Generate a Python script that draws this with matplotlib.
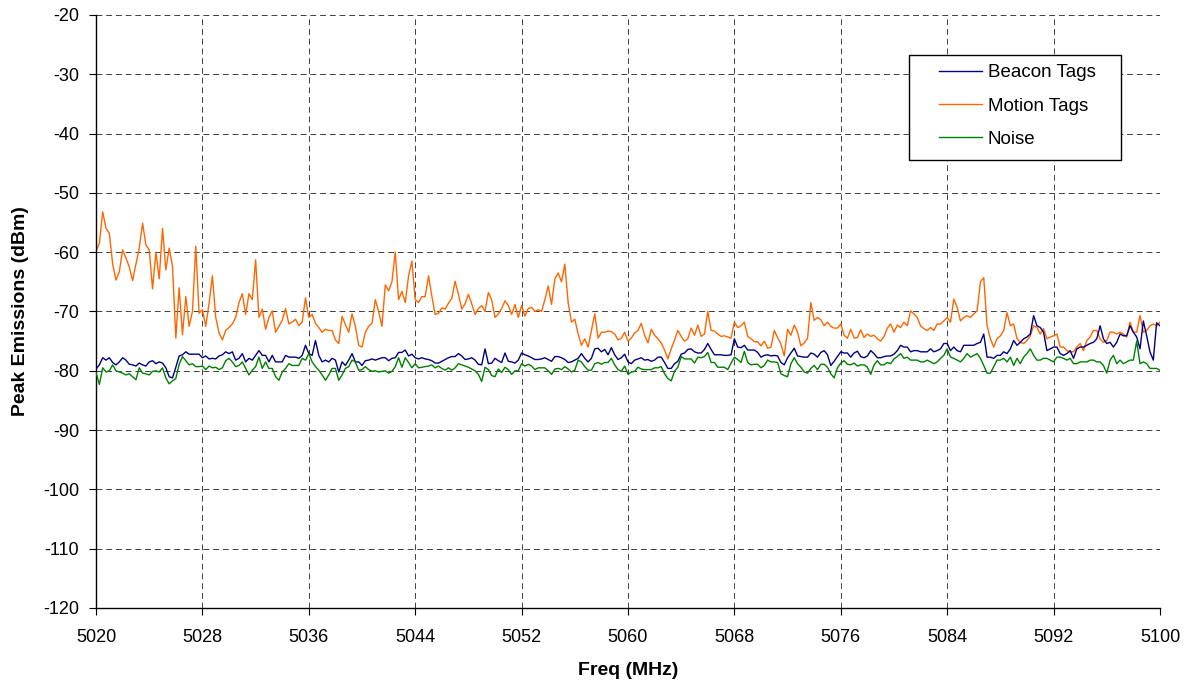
import numpy as np
import matplotlib
matplotlib.use("Agg")
import matplotlib.pyplot as plt
from matplotlib.patches import Rectangle

plt.rcParams["font.family"] = ["Liberation Sans", "DejaVu Sans"]
plt.rcParams["axes.unicode_minus"] = False

# frequency grid (MHz), 0.25 MHz steps from 5020 to 5100
freq = np.arange(5020.0, 5100.01, 0.25)

# peak emissions (dBm)
motion_tags = [
    -59.8, -58.5, -53.2, -56.0, -56.8, -62.0, -64.7, -63.3, -59.6, -61.0,
    -62.5, -64.8, -62.0, -59.3, -55.1, -58.8, -59.6, -66.2, -60.0, -64.5,
    -56.0, -63.0, -59.3, -62.4, -74.5, -66.0, -73.9, -67.5, -72.5, -70.0,
    -59.0, -70.3, -69.7, -72.5, -68.6, -64.0, -71.0, -73.6, -74.8, -73.2,
    -72.7, -72.1, -71.0, -68.5, -67.0, -70.5, -67.0, -68.0, -61.3, -71.0,
    -69.6, -73.0, -71.0, -69.9, -73.5, -72.5, -71.5, -69.5, -72.1, -71.8,
    -71.3, -72.4, -71.8, -67.7, -71.0, -70.5, -72.0, -72.7, -73.5, -73.0,
    -73.2, -73.2, -74.8, -75.4, -70.8, -72.2, -73.5, -70.4, -72.5, -75.7,
    -76.0, -73.5, -72.5, -72.0, -68.0, -70.0, -72.5, -65.5, -66.5, -65.0,
    -60.0, -68.0, -66.6, -68.5, -64.0, -61.5, -68.0, -68.5, -67.5, -67.5,
    -64.0, -67.4, -70.5, -70.3, -69.4, -69.6, -68.6, -67.8, -64.9, -67.1,
    -69.6, -68.7, -67.1, -68.7, -70.5, -69.5, -69.0, -70.0, -66.8, -68.0,
    -71.0, -70.4, -69.5, -68.2, -69.0, -70.5, -68.8, -71.0, -69.0, -70.8,
    -69.5, -69.3, -70.0, -69.7, -70.0, -68.0, -65.7, -68.8, -64.5, -63.5,
    -65.0, -62.0, -68.5, -71.8, -71.3, -73.8, -75.7, -74.6, -76.0, -73.2,
    -70.4, -74.5, -73.5, -73.5, -73.3, -73.4, -73.8, -74.8, -74.5, -73.5,
    -75.0, -74.5, -73.6, -73.2, -72.0, -74.0, -75.3, -73.0, -74.0, -74.6,
    -75.3, -76.5, -78.0, -76.3, -74.8, -73.2, -74.2, -75.0, -74.6, -72.8,
    -74.0, -72.3, -74.2, -73.8, -70.0, -73.2, -73.3, -73.8, -74.2, -74.1,
    -74.3, -74.5, -71.8, -72.7, -72.4, -71.8, -74.2, -74.6, -75.1, -75.1,
    -75.8, -75.0, -76.2, -76.0, -73.2, -74.4, -75.5, -77.5, -73.0, -74.0,
    -72.3, -73.5, -75.8, -75.3, -74.5, -68.5, -71.5, -71.0, -71.4, -72.4,
    -71.8, -72.5, -72.8, -72.8, -72.1, -74.0, -74.5, -73.0, -74.5, -74.4,
    -73.1, -74.4, -73.8, -74.2, -74.0, -74.6, -75.0, -74.2, -72.8, -72.1,
    -73.5, -72.3, -72.7, -71.8, -72.4, -69.9, -70.4, -71.0, -72.4, -72.9,
    -73.2, -72.7, -73.2, -72.1, -72.1, -71.6, -71.0, -71.8, -67.9, -69.3,
    -71.6, -71.0, -70.7, -71.0, -70.4, -69.9, -65.0, -64.3, -72.4, -74.6,
    -76.0, -74.6, -74.1, -73.2, -70.2, -72.4, -72.1, -74.6, -75.2, -75.4,
    -74.9, -74.1, -72.4, -72.7, -73.8, -72.9, -74.6, -74.3, -74.1, -73.8,
    -76.0, -76.0, -76.6, -76.8, -76.8, -76.0, -75.4, -76.6, -74.9, -74.3,
    -73.2, -73.2, -74.6, -75.2, -74.9, -73.5, -73.5, -73.8, -73.5, -73.8,
    -74.3, -71.8, -73.5, -73.5, -70.7, -73.5, -73.2, -72.4, -72.1, -72.4,
    -71.8,
]

beacon_tags = [
    -79.7, -79.0, -77.8, -78.2, -77.8, -78.6, -79.0, -78.5, -77.8, -78.2,
    -78.9, -79.0, -79.2, -78.7, -79.0, -79.2, -78.5, -78.3, -78.8, -78.5,
    -78.7, -79.5, -81.0, -81.2, -79.4, -77.5, -77.3, -76.8, -77.2, -77.2,
    -77.2, -77.2, -77.8, -77.5, -78.0, -77.9, -78.0, -77.5, -77.3, -76.8,
    -77.1, -76.8, -78.2, -77.9, -77.1, -78.5, -77.9, -78.2, -77.4, -76.6,
    -77.4, -77.4, -78.5, -77.4, -78.5, -78.5, -78.5, -77.4, -77.7, -77.7,
    -77.7, -77.9, -77.4, -75.7, -77.1, -77.4, -74.9, -77.4, -78.5, -78.2,
    -78.5, -77.9, -78.2, -80.2, -78.5, -79.1, -78.2, -77.1, -78.5, -78.5,
    -79.1, -78.3, -78.2, -78.0, -78.2, -78.0, -77.8, -77.8, -78.3, -77.9,
    -77.8, -76.9, -76.9, -76.5, -77.5, -77.2, -77.8, -78.0, -77.8, -78.0,
    -78.1, -78.3, -78.7, -78.7, -78.4, -78.1, -77.8, -77.6, -77.6, -77.1,
    -77.5, -78.1, -78.0, -77.8, -78.2, -78.9, -79.0, -76.3, -78.8, -78.7,
    -77.9, -78.3, -78.6, -77.0, -78.4, -78.5, -78.7, -78.2, -77.0, -77.3,
    -77.5, -77.8, -78.1, -78.1, -78.0, -77.8, -78.1, -78.4, -77.6, -77.6,
    -77.8, -78.1, -78.6, -78.5, -78.2, -77.9, -77.1, -77.9, -78.5, -77.9,
    -76.3, -76.2, -76.8, -76.4, -77.3, -76.1, -77.3, -78.1, -77.8, -77.2,
    -78.5, -78.8, -78.2, -78.0, -77.8, -78.2, -78.1, -78.4, -78.2, -77.7,
    -77.7, -78.6, -79.6, -79.6, -78.8, -78.4, -77.2, -77.0, -76.4, -76.3,
    -76.8, -77.0, -77.0, -76.4, -75.4, -76.4, -77.3, -77.3, -77.3, -77.4,
    -77.4, -77.3, -74.6, -76.0, -76.1, -75.7, -76.5, -76.5, -76.5, -76.9,
    -77.7, -77.4, -77.3, -77.5, -77.4, -77.5, -78.6, -79.0, -77.8, -77.0,
    -76.2, -77.5, -77.6, -77.7, -77.7, -77.0, -77.2, -77.7, -76.9, -76.6,
    -77.3, -79.1, -78.4, -77.6, -76.8, -77.0, -77.0, -77.7, -77.0, -76.7,
    -77.6, -77.8, -77.5, -76.6, -77.1, -77.8, -77.8, -77.6, -77.5, -77.5,
    -77.2, -76.6, -75.7, -76.0, -76.0, -76.8, -76.6, -76.6, -76.8, -76.8,
    -76.8, -76.3, -76.8, -76.6, -76.3, -75.4, -75.4, -76.6, -76.0, -76.6,
    -76.8, -75.7, -75.7, -75.7, -75.7, -75.4, -75.2, -73.8, -77.7, -77.7,
    -77.9, -77.4, -77.4, -76.8, -77.1, -76.3, -74.9, -75.7, -75.2, -74.6,
    -74.3, -73.8, -70.7, -72.4, -72.7, -73.5, -76.6, -76.3, -76.0, -76.0,
    -77.1, -77.4, -77.1, -76.6, -77.9, -76.3, -76.0, -76.0, -75.7, -75.4,
    -75.2, -74.6, -72.4, -74.6, -75.4, -75.2, -76.0, -75.2, -73.8, -74.1,
    -74.1, -72.4, -73.5, -74.3, -76.3, -71.6, -74.1, -76.8, -78.2, -71.9,
    -72.4,
]

noise = [
    -80.3, -82.3, -79.5, -80.2, -80.0, -79.0, -80.0, -80.2, -80.4, -80.7,
    -80.5, -81.0, -81.5, -79.5, -80.4, -80.5, -80.7, -80.1, -80.0, -80.2,
    -79.5, -81.2, -82.2, -81.7, -81.3, -78.9, -77.6, -78.3, -79.0, -78.8,
    -79.3, -79.3, -79.2, -79.8, -79.2, -79.5, -79.4, -79.8, -79.5, -78.3,
    -77.9, -78.5, -79.3, -79.1, -78.5, -79.6, -80.7, -79.9, -79.3, -77.7,
    -79.6, -78.5, -79.6, -79.6, -81.0, -81.6, -80.2, -79.6, -78.8, -79.1,
    -79.1, -79.1, -77.9, -78.2, -77.1, -78.5, -79.3, -79.9, -80.7, -81.6,
    -80.7, -79.6, -79.6, -81.6, -80.7, -79.6, -79.3, -78.2, -78.5, -79.9,
    -79.8, -79.3, -79.8, -80.1, -80.0, -80.2, -80.1, -80.0, -80.4, -80.1,
    -79.3, -77.8, -79.4, -77.8, -78.6, -79.5, -78.8, -79.5, -79.4, -79.3,
    -79.2, -79.0, -79.5, -79.2, -79.6, -79.9, -79.5, -79.9, -79.5, -78.8,
    -79.0, -79.2, -79.4, -79.7, -80.0, -80.6, -81.8, -79.4, -79.8, -80.8,
    -81.0, -79.7, -80.3, -79.4, -79.8, -80.6, -80.0, -80.0, -78.8, -79.2,
    -78.9, -79.2, -79.8, -79.5, -79.5, -79.5, -80.0, -80.6, -79.7, -79.6,
    -79.8, -79.3, -79.7, -80.2, -79.9, -78.2, -78.5, -79.3, -79.9, -79.9,
    -78.8, -78.6, -78.9, -78.6, -78.6, -77.9, -79.0, -79.8, -80.1, -79.2,
    -80.6, -80.2, -80.1, -79.4, -79.7, -79.8, -79.8, -79.8, -79.5, -79.5,
    -79.3, -80.5, -81.3, -81.7, -80.1, -79.4, -77.6, -78.0, -78.0, -78.0,
    -78.7, -77.7, -77.8, -77.6, -76.9, -78.6, -78.6, -79.4, -79.4, -79.4,
    -79.8, -78.7, -77.7, -78.1, -78.6, -76.7, -78.6, -79.0, -78.9, -78.9,
    -79.5, -79.1, -78.2, -78.5, -78.5, -78.6, -80.5, -80.8, -81.0, -78.8,
    -77.8, -78.8, -79.4, -80.2, -80.4, -79.6, -79.1, -79.8, -78.9, -78.9,
    -79.4, -80.5, -81.2, -79.5, -78.7, -78.3, -78.9, -79.0, -78.7, -79.2,
    -79.0, -79.0, -79.4, -80.6, -79.0, -78.3, -79.0, -79.0, -78.6, -78.8,
    -78.0, -77.6, -77.1, -77.9, -77.7, -78.2, -78.2, -78.2, -78.5, -78.5,
    -78.2, -78.5, -78.8, -78.5, -77.9, -77.4, -76.3, -77.7, -77.9, -78.2,
    -78.5, -77.9, -77.1, -77.7, -77.4, -77.1, -77.9, -79.1, -80.4, -80.4,
    -79.3, -78.2, -78.2, -77.9, -78.5, -77.7, -79.1, -77.9, -78.8, -77.7,
    -77.1, -76.3, -77.4, -78.2, -78.2, -77.9, -77.9, -78.2, -78.5, -77.7,
    -77.7, -77.9, -78.2, -77.9, -78.8, -78.8, -78.5, -78.5, -78.5, -78.2,
    -78.2, -78.5, -78.5, -79.1, -80.4, -78.2, -77.4, -78.8, -78.2, -78.8,
    -78.5, -78.2, -78.2, -75.0, -78.8, -78.5, -78.8, -79.6, -79.6, -79.6,
    -79.9,
]

x_ticks = list(range(5020, 5101, 8))
y_ticks = list(range(-120, -19, 10))

fig = plt.figure(figsize=(11.93, 6.88), dpi=100)
ax = fig.add_axes([0.0805, 0.1163, 0.8918, 0.8619])

ax.plot(freq, beacon_tags, color="#000080", lw=1.0, label="Beacon Tags", zorder=3)
ax.plot(freq, motion_tags, color="#FF6600", lw=1.0, label="Motion Tags", zorder=2)
ax.plot(freq, noise, color="#008000", lw=1.0, label="Noise", zorder=4)

ax.set_xlim(5020, 5100)
ax.set_ylim(-120, -20)
ax.set_xticks(x_ticks)
ax.set_yticks(y_ticks)
ax.tick_params(direction="out", length=5, width=0.8, labelsize=13, color="black")
ax.tick_params(axis="y", pad=7)
ax.tick_params(axis="x", pad=10)

ax.grid(True, color="black", linestyle=(0, (6, 4)), lw=0.7, alpha=0.75)
ax.set_axisbelow(True)
for side in ["top", "right"]:
    ax.spines[side].set_visible(False)
for side in ["left", "bottom"]:
    ax.spines[side].set_linewidth(1.0)

ax.set_xlabel("Freq (MHz)", fontsize=14, fontweight="bold", labelpad=12)
ax.set_ylabel("Peak Emissions (dBm)", fontsize=14, fontweight="bold", labelpad=10)

# legend box drawn separately so the inner padding matches the original
ax.add_patch(Rectangle((0.7641, 0.7555), 0.1992, 0.177, transform=ax.transAxes,
                       facecolor="white", edgecolor="black", lw=1.0, zorder=5))
leg = ax.legend(loc="upper left", bbox_to_anchor=(0.7923, 0.9173), borderaxespad=0,
                borderpad=0, fontsize=13.5, frameon=False,
                handlelength=2.3, handletextpad=0.3, labelspacing=0.87)
leg.set_zorder(6)

fig.savefig("out.png", dpi=100)
